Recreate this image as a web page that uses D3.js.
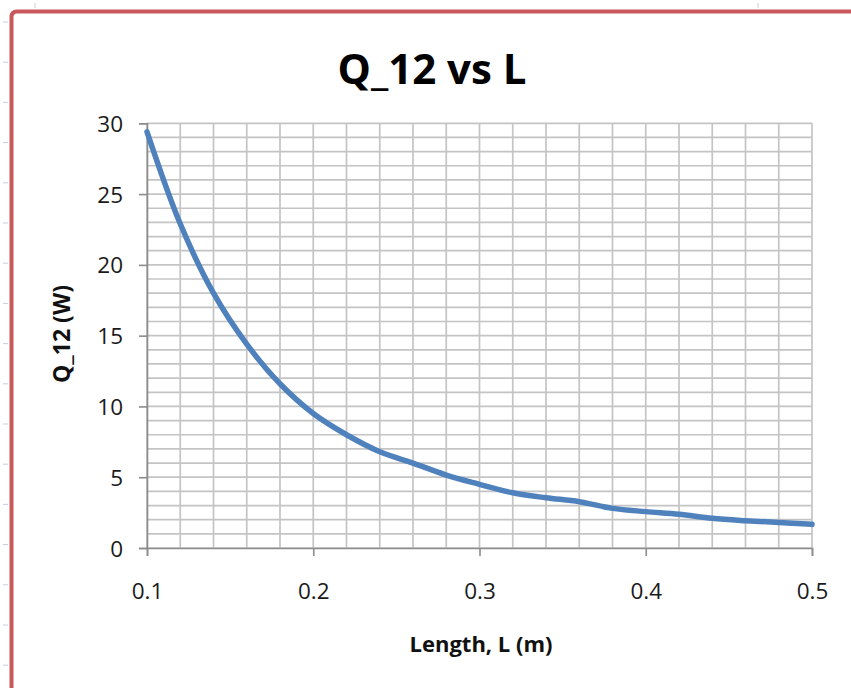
<!DOCTYPE html>
<html>
<head>
<meta charset="utf-8">
<script src="https://cdn.jsdelivr.net/npm/d3@7"></script>
<style>
  html, body { margin: 0; padding: 0; background: #fff; }
  svg { display: block; }
</style>
</head>
<body>
<svg id="chart" width="851" height="688"></svg>
<script>
// Heat transfer Q_12 against length L
const lengths = [0.10, 0.12, 0.14, 0.16, 0.18, 0.20, 0.22, 0.24, 0.26, 0.28, 0.30,
                 0.32, 0.34, 0.36, 0.38, 0.40, 0.42, 0.44, 0.46, 0.48, 0.50];
const q12 = [29.4, 22.9, 18.0, 14.4, 11.6, 9.5, 8.0, 6.8, 6.0, 5.15, 4.5,
             3.9, 3.55, 3.27, 2.8, 2.57, 2.38, 2.1, 1.93, 1.8, 1.67];
const xTicks = [0.1, 0.2, 0.3, 0.4, 0.5];
const yTicks = [0, 5, 10, 15, 20, 25, 30];

const svg = d3.select("#chart");
const font = "'Open Sans', 'Liberation Sans', sans-serif";

// chart frame
svg.append("path")
  .attr("d", "M11.5,690 L11.5,17 Q11.5,11.5 17,11.5 L860,11.5")
  .attr("fill", "none").attr("stroke", "#c9585a").attr("stroke-width", 4);

// faint sheet row markers along the left edge
const rowMarks = d3.range(22, 688, 40.2);
svg.append("g").selectAll("line").data(rowMarks).join("line")
  .attr("x1", 3).attr("x2", 8).attr("y1", d => d).attr("y2", d => d)
  .attr("stroke", "#c8cce0").attr("stroke-width", 1);
svg.append("g").selectAll("line").data([35, 758]).join("line")
  .attr("x1", d => d).attr("x2", d => d).attr("y1", 3).attr("y2", 8)
  .attr("stroke", "#c8cce0").attr("stroke-width", 1);

const plotLeft = 147, plotRight = 812, plotTop = 123.3, plotBottom = 548;
const x = d3.scaleLinear().domain([0.1, 0.5]).range([plotLeft, plotRight]);
const y = d3.scaleLinear().domain([0, 30]).range([plotBottom, plotTop]);

// grid: minor steps of 0.02 in L and 1 W in Q
const gx = d3.range(0.1, 0.5001, 0.02);
const gy = d3.range(0, 30.001, 1);
const grid = svg.append("g").attr("stroke", "#c4c4c4").attr("stroke-width", 1.7);
grid.selectAll("line.v").data(gx).join("line").attr("class", "v")
  .attr("x1", d => x(d)).attr("x2", d => x(d)).attr("y1", plotTop).attr("y2", plotBottom);
grid.selectAll("line.h").data(gy).join("line").attr("class", "h")
  .attr("x1", plotLeft).attr("x2", plotRight).attr("y1", d => y(d)).attr("y2", d => y(d));

// axes
const yAxis = svg.append("g").attr("transform", `translate(${plotLeft},0)`)
  .call(d3.axisLeft(y).tickValues(yTicks).tickSize(8).tickPadding(16).tickFormat(d3.format("d")));
const xAxis = svg.append("g").attr("transform", `translate(0,${plotBottom})`)
  .call(d3.axisBottom(x).tickValues(xTicks).tickSize(8).tickPadding(27).tickFormat(d3.format(".1f")));
[yAxis, xAxis].forEach(g => {
  g.select(".domain").attr("stroke", "#8c8c8c").attr("stroke-width", 1.6);
  g.selectAll(".tick line").attr("stroke", "#8c8c8c").attr("stroke-width", 1.6);
  g.selectAll(".tick text").attr("fill", "#1a1a1a")
    .style("font-family", font).style("font-size", "22.5px");
});
yAxis.selectAll(".tick text").attr("dy", "0.36em");

// data line
const line = d3.line().x((d, i) => x(lengths[i])).y(d => y(d)).curve(d3.curveCatmullRom.alpha(0.5));
svg.append("path").datum(q12)
  .attr("d", line).attr("fill", "none")
  .attr("stroke", "#4f81bd").attr("stroke-width", 5.5).attr("stroke-linecap", "round");

// titles
svg.append("text").attr("x", 432).attr("y", 84).attr("text-anchor", "middle")
  .style("font-family", font).style("font-weight", "bold").style("font-size", "42px")
  .attr("fill", "#000").text("Q_12 vs L");
svg.append("text").attr("x", 481).attr("y", 652).attr("text-anchor", "middle")
  .style("font-family", font).style("font-weight", "bold").style("font-size", "22px")
  .attr("fill", "#111").text("Length, L (m)");
svg.append("text").attr("transform", "translate(70,334) rotate(-90)").attr("text-anchor", "middle")
  .style("font-family", font).style("font-weight", "bold").style("font-size", "23px")
  .attr("fill", "#111").text("Q_12 (W)");
</script>
</body>
</html>
